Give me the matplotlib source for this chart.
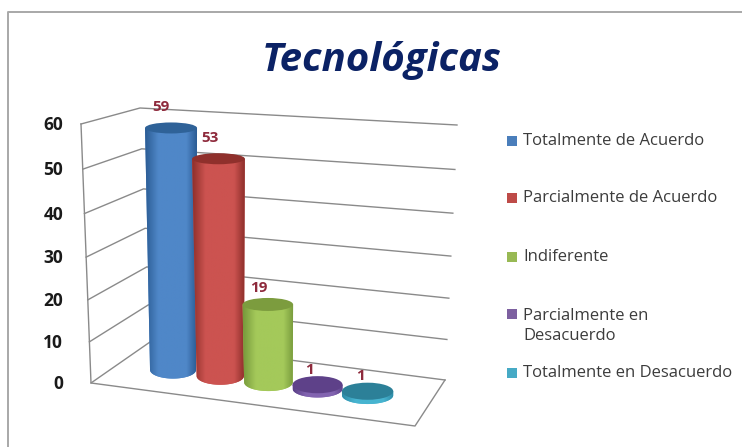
import numpy as np
import matplotlib
matplotlib.use("Agg")
import matplotlib.pyplot as plt
from matplotlib.patches import Polygon, Rectangle, Ellipse
from matplotlib.colors import LinearSegmentedColormap

# ---- data ----
categorias = ["Totalmente de Acuerdo", "Parcialmente de Acuerdo", "Indiferente",
              "Parcialmente en\nDesacuerdo", "Totalmente en Desacuerdo"]
valores = [59, 53, 19, 1, 1]
ticks = [0, 10, 20, 30, 40, 50, 60]
titulo = "Tecnológicas"

# ---- style ----
FONT = "Open Sans"
c_edge = ["#2B5C94", "#8E2F2B", "#779A3C", "#5A3F86", "#2E8BA6"]
c_mid = ["#4F87C8", "#CC5350", "#A4C95A", "#8264B0", "#47B4D0"]
c_top = ["#2F6298", "#8F302C", "#7C9C3E", "#5E4189", "#2C8098"]
c_leg = ["#4A7EBB", "#BE4B48", "#98B954", "#7D60A0", "#46AAC5"]
GRID = "#8a8a8a"

W, H = 742, 447
fig = plt.figure(figsize=(W / 100, H / 100), dpi=100, facecolor="white")
ax = fig.add_axes([0, 0, 1, 1])
ax.set_xlim(0, W)
ax.set_ylim(H, 0)
ax.axis("off")

# chart frame
ax.plot([7.5, 7.5, W], [H, 11.5, 11.5], color="#a8a8a8", lw=1.4, solid_capstyle="butt")

# 3-D box geometry (pixel anchors of the axis box)
FL0, FR0, BL0, BR0 = map(np.array, [(91, 383), (415, 426), (150, 342), (445, 380)])
FL1, BL1, BR1 = map(np.array, [(81, 124), (140, 108), (457, 125)])
VMAX = ticks[-1]


def frac(v):
    t = v / VMAX
    return t - 0.056 * t * (1 - t)


def wall(p0, p1, v):
    return p0 + (p1 - p0) * frac(v)


def floor(u, d):
    front = FL0 + (FR0 - FL0) * u
    back = BL0 + (BR0 - BL0) * u
    return front + (back - front) * d


# gridlines
for v in ticks:
    f, b, r = wall(FL0, FL1, v), wall(BL0, BL1, v), wall(BR0, BR1, v)
    ax.plot([f[0], b[0], r[0]], [f[1], b[1], r[1]], color=GRID, lw=1, zorder=1)
    ax.text(63, f[1] + 1, str(v), ha="right", va="center", family=FONT,
            fontweight="bold", fontsize=12.5, color="#1a1a1a")

# wall and floor edges
pts = np.array([FL1, FL0, FR0, BR0])
ax.plot(pts[:, 0], pts[:, 1], color=GRID, lw=1, zorder=1)

# cylinders
PX_PER_UNIT = 4.1
U0, DU, Q, D = 0.4795, 0.157, 0.0015, 0.49


def semi_h(v):
    return 5.5 + 3.2 * (1 - v / 59) ** 3


def ellipse_xy(cx, cy, a, b, t):
    return cx + a * np.cos(t), cy + b * np.sin(t)


def base(i):
    return floor(U0 + (i - 2) * DU + Q * (i - 2) ** 2, D)


for i, v in enumerate(valores):
    bx, by = base(i)
    a0 = 23 + 0.65 * i
    a1 = a0 + 3.0 * v / 59
    tx = bx - 2.0 * v / 59
    ty = by - v * PX_PER_UNIT
    b0, b1 = semi_h(0), semi_h(v)
    t = np.linspace(np.pi, 0, 60)
    xb, yb = ellipse_xy(bx, by, a0, b0, t)
    body = np.vstack([[tx - a1, ty], np.column_stack([xb, yb]), [tx + a1, ty]])
    poly = Polygon(body, closed=True, fc=c_mid[i], ec="none", zorder=3 + i)
    ax.add_patch(poly)
    cmap = LinearSegmentedColormap.from_list(
        "c", [c_edge[i], c_mid[i], c_mid[i], c_edge[i]], N=256)
    grad = np.array([np.interp(np.linspace(0, 1, 128),
                               [0, .25, .6, .8, 1], [0, .33, .5, .67, 1])])
    xl, xr = min(tx - a1, bx - a0), max(tx + a1, bx + a0)
    im = ax.imshow(grad, cmap=cmap, aspect="auto", vmin=0, vmax=1,
                   extent=[xl, xr, by + b0 + 1, ty - 1], zorder=3 + i)
    im.set_clip_path(poly)
    ax.add_patch(Ellipse((tx, ty), 2 * a1, 2 * b1, fc=c_top[i], ec="none", zorder=3 + i))

# data labels
for i, v in enumerate(valores):
    bx, by = base(i)
    ax.text(bx - 12 + 1.25 * i, by - v * PX_PER_UNIT - 15 - 6 * v / 59, str(v),
            ha="center", va="center", family=FONT, fontweight="bold",
            fontsize=11, color="#8E2A3C", zorder=10)
ax.set_xlim(0, W)
ax.set_ylim(H, 0)

# title
ax.text(382, 60, titulo, ha="center", va="center", family=FONT, style="italic",
        fontweight="bold", fontsize=29, color="#0B2265")

# legend
sq_y = [141, 198, 257, 314, 373]
tx_y = [141, 198, 257, 326, 373]
for name, col, sy, ty in zip(categorias, c_leg, sq_y, tx_y):
    ax.add_patch(Rectangle((507, sy - 5), 10, 10, fc=col, ec="none"))
    ax.text(523, ty, name, ha="left", va="center", family=FONT, fontsize=12,
            color="#3c3c3c", linespacing=1.4)

fig.savefig("out.png", dpi=100)
